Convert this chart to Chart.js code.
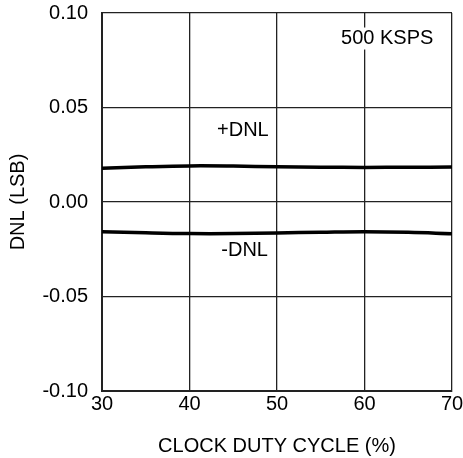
<!DOCTYPE html>
<html>
<head>
<meta charset="utf-8">
<script src="https://cdn.jsdelivr.net/npm/chart.js@4/dist/chart.umd.min.js"></script>
<style>
  html, body { margin: 0; padding: 0; background: #fff; }
  #wrap { width: 463px; height: 458px; }
</style>
</head>
<body>
<div id="wrap"><canvas id="dnlChart"></canvas></div>
<script>
// duty cycle (%) and DNL readings
var dutyCycle = [30, 35, 40, 45, 50, 55, 60, 65, 70];
var dnlPos = [0.0178, 0.0186, 0.0191, 0.0190, 0.0186, 0.0184, 0.0183, 0.0184, 0.0185];
var dnlNeg = [-0.0157, -0.0163, -0.0167, -0.0167, -0.0164, -0.0160, -0.0157, -0.0160, -0.0168];
var yTicks = [-0.10, -0.05, 0.00, 0.05, 0.10];
var xTicks = [30, 40, 50, 60, 70];

var FONT = "'Liberation Sans', Arial, sans-serif";
var FS = 20;

function pts(ys) {
  return dutyCycle.map(function(x, i) { return { x: x, y: ys[i] }; });
}

// text labels inside the plot
var notes = {
  id: 'notes',
  afterDraw: function(chart) {
    var ctx = chart.ctx;
    var xs = chart.scales.x, ys = chart.scales.y;
    ctx.save();
    ctx.font = FS + 'px ' + FONT;
    ctx.fillStyle = '#000';
    ctx.textAlign = 'center';
    ctx.textBaseline = 'middle';
    // 500 KSPS knocks out the grid line behind it
    var kx = xs.getPixelForValue(62.6), ky = ys.getPixelForValue(0.0865);
    var w = ctx.measureText('500 KSPS').width;
    ctx.fillStyle = '#fff';
    ctx.fillRect(kx - w / 2 - 2, ky - 11, w + 4, 22);
    ctx.fillStyle = '#000';
    ctx.fillText('500 KSPS', kx, ky);
    ctx.fillText('+DNL', xs.getPixelForValue(46.1), ys.getPixelForValue(0.0377));
    ctx.fillText('-DNL', xs.getPixelForValue(46.3), ys.getPixelForValue(-0.0259));
    ctx.restore();
  }
};

new Chart(document.getElementById('dnlChart'), {
  type: 'line',
  data: {
    datasets: [{
      label: '+DNL',
      data: pts(dnlPos),
      borderColor: '#000',
      borderWidth: 3.5,
      pointRadius: 0,
      tension: 0.4,
      fill: false
    }, {
      label: '-DNL',
      data: pts(dnlNeg),
      borderColor: '#000',
      borderWidth: 3.5,
      pointRadius: 0,
      tension: 0.4,
      fill: false
    }]
  },
  options: {
    responsive: true,
    maintainAspectRatio: false,
    animation: false,
    layout: { padding: { top: 13, right: 11, left: 0, bottom: 0 } },
    plugins: {
      legend: { display: false },
      tooltip: { enabled: false }
    },
    scales: {
      x: {
        type: 'linear',
        min: 30,
        max: 70,
        afterBuildTicks: function(s) { s.ticks = xTicks.map(function(v) { return { value: v }; }); },
        afterFit: function(s) { s.height = 67; s.paddingLeft = 0; s.paddingRight = 0; },
        ticks: { color: '#000', font: { size: FS, family: FONT }, padding: 1, maxRotation: 0 },
        grid: { color: '#222', lineWidth: 1.3, drawTicks: false },
        border: { color: '#222', width: 2 },
        title: {
          display: true,
          text: 'CLOCK DUTY CYCLE (%)',
          color: '#000',
          font: { size: FS, family: FONT },
          padding: { top: 0, bottom: 0 }
        }
      },
      y: {
        min: -0.1,
        max: 0.1,
        afterBuildTicks: function(s) { s.ticks = yTicks.map(function(v) { return { value: v }; }); },
        afterFit: function(s) { s.width = 102; s.paddingTop = 0; s.paddingBottom = 0; },
        ticks: {
          color: '#000',
          font: { size: FS, family: FONT },
          padding: 14,
          callback: function(v) { return v.toFixed(2); }
        },
        grid: { color: '#222', lineWidth: 1.3, drawTicks: false },
        border: { color: '#222', width: 2 },
        title: {
          display: true,
          text: 'DNL (LSB)',
          color: '#000',
          font: { size: FS, family: FONT },
          padding: { top: 6, bottom: 0 }
        }
      }
    }
  },
  plugins: [notes]
});
</script>
</body>
</html>
